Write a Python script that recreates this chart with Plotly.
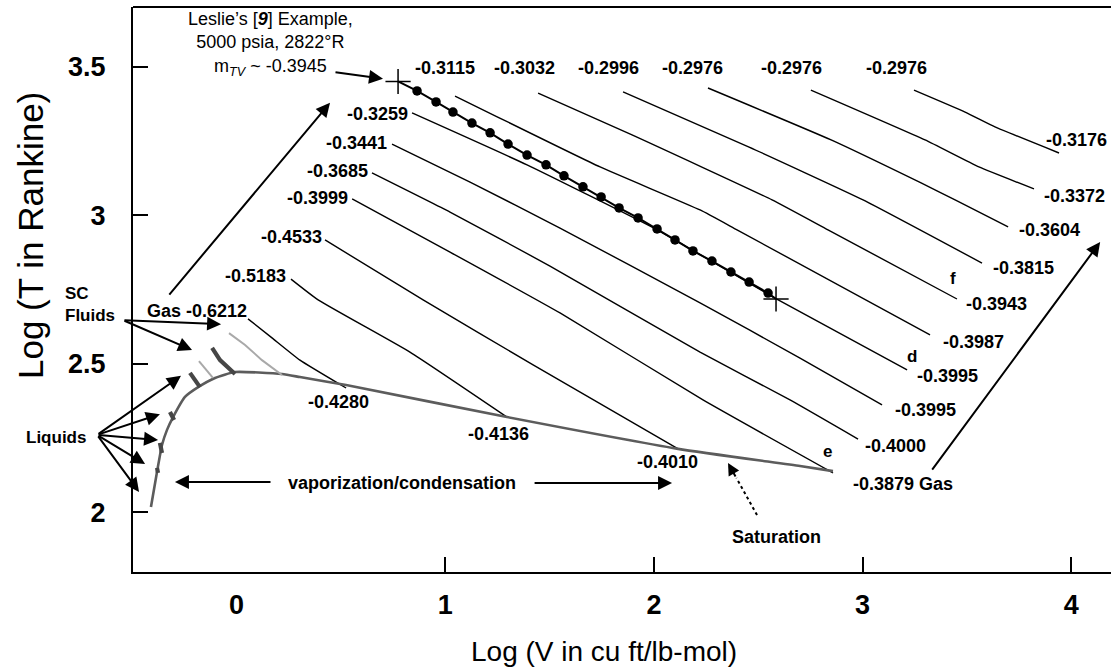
import plotly.graph_objects as go

FONT = "Arial, 'Liberation Sans', sans-serif"

# ---- isobars in log V / log T, each tagged with m_TV at its start and end ----
start_labels = ["-0.2976", "-0.2976", "-0.2976", "-0.2996", "-0.3032", "-0.3115",
                "-0.3259", "-0.3441", "-0.3685", "-0.3999", "-0.4533", "-0.5183",
                "Gas -0.6212"]
end_labels = ["-0.3176", "-0.3372", "-0.3604", "-0.3815", "-0.3943", "-0.3987",
              "-0.3995", "-0.3995", "-0.4000", "-0.3879 Gas", "-0.4010", "-0.4136",
              "-0.4280"]
iso_logv = [
    [3.246, 3.491, 3.634, 3.941],
    [2.752, 3.299, 3.557, 3.821],
    [2.259, 2.849, 3.280, 3.443, 3.697],
    [1.852, 2.456, 3.002, 3.572],
    [1.445, 1.895, 2.566, 2.834, 3.452],
    [1.047, 1.742, 2.221, 2.398, 3.323],
    [0.841, 1.392, 2.015, 2.580, 3.213],
    [0.745, 1.119, 1.550, 2.221, 2.700, 3.093],
    [0.649, 1.023, 1.502, 2.221, 2.652, 2.978],
    [0.554, 1.023, 1.550, 2.235, 2.858],
    [0.424, 0.894, 1.421, 2.116],
    [0.261, 0.391, 0.831, 1.296],
    [0.055, 0.170, 0.304, 0.525],
]
iso_logt = [
    [3.422, 3.348, 3.298, 3.210],
    [3.422, 3.254, 3.163, 3.089],
    [3.429, 3.254, 3.109, 3.052, 2.961],
    [3.416, 3.230, 3.052, 2.839],
    [3.412, 3.271, 3.052, 2.951, 2.718],
    [3.402, 3.163, 3.018, 2.951, 2.597],
    [3.345, 3.170, 2.951, 2.721, 2.479],
    [3.240, 3.112, 2.957, 2.705, 2.519, 2.361],
    [3.143, 3.011, 2.829, 2.539, 2.378, 2.246],
    [3.055, 2.876, 2.671, 2.378, 2.132],
    [2.917, 2.715, 2.496, 2.213],
    [2.785, 2.715, 2.539, 2.320],
    [2.651, 2.587, 2.512, 2.418],
]
# letters marking points at the ends of three isobars
end_tags = {4: "f", 6: "d", 9: "e"}

# ---- Leslie's 5000 psia example (computed points plus end crosses) ----
leslie_logv = [0.865, 0.956, 1.037, 1.128, 1.215, 1.301, 1.392, 1.483, 1.569, 1.660,
               1.747, 1.833, 1.924, 2.015, 2.101, 2.187, 2.278, 2.369, 2.456, 2.547]
leslie_logt = [3.419, 3.382, 3.348, 3.311, 3.278, 3.240, 3.203, 3.170, 3.133, 3.096,
               3.062, 3.025, 2.991, 2.954, 2.917, 2.880, 2.846, 2.809, 2.775, 2.738]
leslie_end_logv = [0.774, 2.585]
leslie_end_logt = [3.451, 2.718]

# ---- saturation envelope (bubble branch up to the critical point, then dew branch) ----
sat_logv = [-0.410, -0.381, -0.357, -0.333, -0.304, -0.247, -0.184, -0.103, -0.007,
            0.218, 0.304, 0.525, 1.296, 2.116, 2.700, 2.858]
sat_logt = [2.017, 2.135, 2.226, 2.277, 2.320, 2.388, 2.421, 2.452, 2.472,
            2.465, 2.455, 2.428, 2.320, 2.213, 2.155, 2.138]

# supercritical-fluid isobar pieces (light) and near-critical / liquid pieces (dark)
sc_light_logv = [[-0.036, 0.041, 0.122, 0.218], [-0.180, -0.146, -0.113]]
sc_light_logt = [[2.603, 2.563, 2.512, 2.462], [2.509, 2.479, 2.452]]
dense_logv = [[-0.117, -0.079, -0.007], [-0.223, -0.175],
              [-0.319, -0.299], [-0.367, -0.357], [-0.381, -0.376]]
dense_logt = [[2.553, 2.512, 2.465], [2.469, 2.421],
              [2.337, 2.310], [2.233, 2.199], [2.149, 2.132]]

xtick_vals = [0, 1, 2, 3, 4]
xtick_marks = [1, 2, 3, 4]
ytick_vals = [2, 2.5, 3, 3.5]
ytick_text = ["2", "2.5", "3", "3.5"]

X_RANGE = [-0.496, 4.19]
Y_RANGE = [1.798, 3.702]
PLOT_W, PLOT_H = 978, 565
PX_X = PLOT_W / (X_RANGE[1] - X_RANGE[0])
PX_Y = PLOT_H / (Y_RANGE[1] - Y_RANGE[0])

fig = go.Figure()

for vs, ts in zip(iso_logv, iso_logt):
    fig.add_trace(go.Scatter(x=vs, y=ts, mode="lines",
                             line=dict(color="black", width=1.4, shape="spline", smoothing=0.4),
                             hoverinfo="skip"))

fig.add_trace(go.Scatter(x=sat_logv, y=sat_logt, mode="lines",
                         line=dict(color="#5c5c5c", width=2.6, shape="spline", smoothing=0.5),
                         hoverinfo="skip"))
for vs, ts in zip(sc_light_logv, sc_light_logt):
    fig.add_trace(go.Scatter(x=vs, y=ts, mode="lines",
                             line=dict(color="#a9a9a9", width=2), hoverinfo="skip"))
for vs, ts in zip(dense_logv, dense_logt):
    fig.add_trace(go.Scatter(x=vs, y=ts, mode="lines",
                             line=dict(color="#464646", width=4.2), hoverinfo="skip"))

fig.add_trace(go.Scatter(
    x=[leslie_end_logv[0]] + leslie_logv + [leslie_end_logv[1]],
    y=[leslie_end_logt[0]] + leslie_logt + [leslie_end_logt[1]],
    mode="lines", line=dict(color="black", width=2), hoverinfo="skip"))
fig.add_trace(go.Scatter(x=leslie_logv, y=leslie_logt, mode="markers",
                         marker=dict(color="black", size=9.5), hoverinfo="skip"))
fig.add_trace(go.Scatter(x=leslie_end_logv, y=leslie_end_logt, mode="markers",
                         marker=dict(symbol="cross-thin-open", size=18, color="black",
                                     line=dict(color="black", width=1.5)),
                         hoverinfo="skip"))

# dotted shaft of the saturation pointer
sat_ptr = (2.494, 1.990, 2.355, 2.165)
fig.add_trace(go.Scatter(x=[sat_ptr[0], sat_ptr[2] + 0.04],
                         y=[sat_ptr[1], sat_ptr[3] - 0.05], mode="lines",
                         line=dict(color="black", width=2, dash="dot"), hoverinfo="skip"))

# carrier trace for the secondary axis that holds the x tick marks
fig.add_trace(go.Scatter(x=[None], y=[None], xaxis="x2", hoverinfo="skip"))

ann = []


def bold(x, y, text, xanchor="center", dx=0, dy=0, size=18):
    ann.append(dict(x=x, y=y, xref="x", yref="y", text=f"<b>{text}</b>", showarrow=False,
                    xanchor=xanchor, yanchor="middle", xshift=dx, yshift=-dy,
                    font=dict(family=FONT, size=size, color="black")))


def arrow(x0, y0, x1, y1, size=1.4):
    ann.append(dict(x=x1, y=y1, xref="x", yref="y", axref="pixel", ayref="pixel",
                    ax=(x0 - x1) * PX_X, ay=-(y0 - y1) * PX_Y, text="", showarrow=True,
                    arrowhead=2, arrowsize=size, arrowwidth=2, arrowcolor="black"))


# start labels: offsets (px) from the first point of each isobar
start_off = [(-17, -22), (-19, -22), (-15, -20), (-15, -24), (-14, -25), (-10, -28),
             (-2, 1), (-3, -1), (-2, -2), (-2, -1), (-1, -3), (-3, -3), (1, -8)]
end_off = [(17, -13), (41, 7), (41, 3), (41, 5), (40, 5), (43, 7), (40, 6), (43, 5),
           (37, 7), (70, 11), (-11, 13), (-9, 17), (-8, 14)]
tag_off = {4: (-4, -21), 6: (5, -13), 9: (-6, -21)}

for i, (vs, ts) in enumerate(zip(iso_logv, iso_logt)):
    sx, sy = start_off[i]
    bold(vs[0], ts[0], start_labels[i], "center" if i < 6 else "right", sx, sy)
    ex, ey = end_off[i]
    bold(vs[-1], ts[-1], end_labels[i], "center", ex, ey)
    if i in end_tags:
        tx, ty = tag_off[i]
        bold(vs[-1], ts[-1], end_tags[i], "center", tx, ty, size=17)

bold(0.793, 2.098, "vaporization/condensation")
bold(2.587, 1.916, "Saturation")

ann.append(dict(x=0.161, y=3.579, xref="x", yref="y", showarrow=False,
                text="Leslie’s [<b><i>9</i></b>] Example,<br>5000 psia, 2822°R<br>"
                     "m<sub><i>TV</i></sub> ~ -0.3945",
                font=dict(family=FONT, size=18, color="black"), align="center"))

ann.append(dict(x=(63 - 133) / PLOT_W, y=(572 - 304) / PLOT_H, xref="paper", yref="paper",
                text="<b>SC<br>Fluids</b>", showarrow=False, xanchor="left", yanchor="middle",
                align="left", font=dict(family=FONT, size=17, color="black")))
ann.append(dict(x=(88 - 133) / PLOT_W, y=(572 - 437) / PLOT_H, xref="paper", yref="paper",
                text="<b>Liquids</b>", showarrow=False, xanchor="right", yanchor="middle",
                font=dict(family=FONT, size=17, color="black")))

# pointers
arrow(-0.328, 2.728, 0.448, 3.379)          # gas -> high pressure
arrow(3.328, 2.138, 4.138, 2.910)           # gas -> right side
arrow(0.467, 3.483, 0.702, 3.460)           # Leslie's starting point
arrow(-0.544, 2.647, -0.074, 2.633)         # SC fluids
arrow(-0.544, 2.647, -0.213, 2.546)
for hx, hy in [(-0.266, 2.459), (-0.367, 2.330), (-0.376, 2.243), (-0.438, 2.162), (-0.467, 2.068)]:
    arrow(-0.668, 2.260, hx, hy)            # liquids
arrow(0.170, 2.101, -0.295, 2.101)          # vaporization
arrow(1.421, 2.098, 2.087, 2.098)           # condensation
arrow(sat_ptr[2] + 0.04, sat_ptr[3] - 0.05, sat_ptr[2], sat_ptr[3], size=1.2)

# axis titles
ann.append(dict(x=(604 - 133) / PLOT_W, y=(572 - 651) / PLOT_H, xref="paper", yref="paper",
                text="Log (V in cu ft/lb-mol)", showarrow=False, yanchor="middle",
                font=dict(family=FONT, size=28, color="black")))
ann.append(dict(x=(30 - 133) / PLOT_W, y=(572 - 236) / PLOT_H, xref="paper", yref="paper",
                text="Log (T in Rankine)", showarrow=False, textangle=-90,
                xanchor="center", yanchor="middle",
                font=dict(family=FONT, size=35, color="black")))

fig.update_layout(
    width=1111, height=670, autosize=False,
    margin=dict(l=133, r=0, t=7, b=98, pad=0),
    paper_bgcolor="white", plot_bgcolor="white", showlegend=False,
    xaxis=dict(range=X_RANGE, showgrid=False, zeroline=False, showline=True,
               linecolor="black", linewidth=2, ticks="", tickvals=xtick_vals,
               ticktext=[f"<b>{v}</b>" for v in xtick_vals],
               tickfont=dict(family=FONT, size=27, color="black"), ticklabelstandoff=8),
    xaxis2=dict(overlaying="x", anchor="y", side="bottom", range=X_RANGE, showgrid=False,
                zeroline=False, showline=False, ticks="inside", ticklen=15, tickwidth=1.5,
                tickcolor="black", tickvals=xtick_marks, showticklabels=False),
    yaxis=dict(range=Y_RANGE, showgrid=False, zeroline=False, showline=True,
               linecolor="black", linewidth=2, ticks="inside", ticklen=15, tickwidth=1.5,
               tickcolor="black", tickvals=ytick_vals,
               ticktext=[f"<b>{t}</b>" for t in ytick_text],
               tickfont=dict(family=FONT, size=27, color="black"), ticklabelstandoff=20),
    shapes=[dict(type="line", xref="paper", yref="paper", x0=0, x1=1, y0=1, y1=1,
                 line=dict(color="black", width=2))],
    annotations=ann,
)

fig.write_html("out.html")
